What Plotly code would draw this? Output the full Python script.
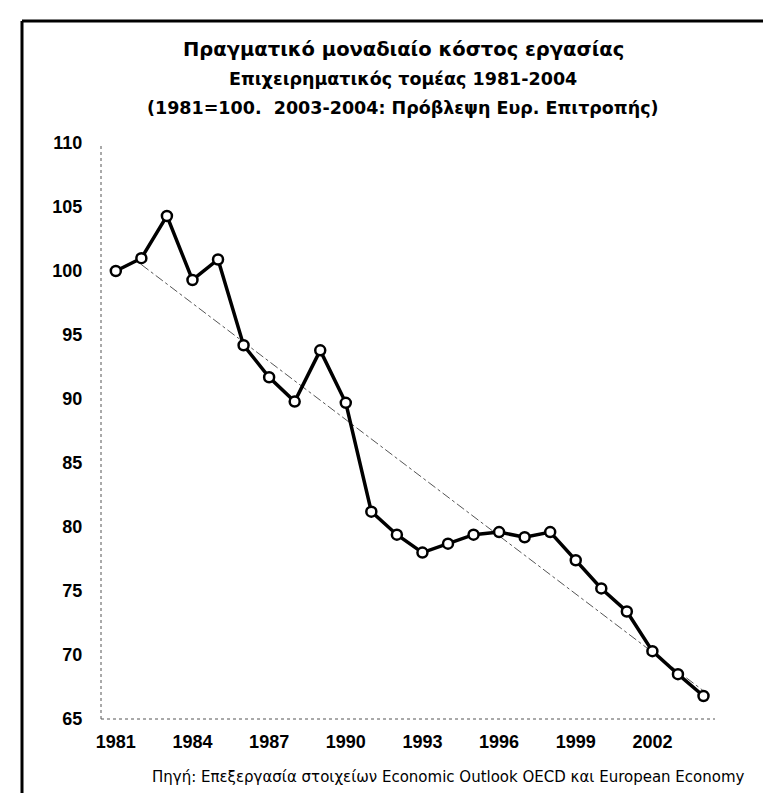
import plotly.graph_objects as go

years = list(range(1981, 2005))
ulc = [100.0, 101.0, 104.3, 99.3, 100.9, 94.2, 91.7, 89.8, 93.8, 89.7,
       81.2, 79.4, 78.0, 78.7, 79.4, 79.6, 79.2, 79.6, 77.4, 75.2,
       73.4, 70.3, 68.5, 66.8]
trend_years = [1982, 2004]
trend_vals = [100.5, 67.2]
x_ticks = [1981, 1984, 1987, 1990, 1993, 1996, 1999, 2002]
y_ticks = [65, 70, 75, 80, 85, 90, 95, 100, 105, 110]

title_lines = [
    "Πραγματικό μοναδιαίο κόστος εργασίας",
    "Επιχειρηματικός τομέας 1981-2004",
    "(1981=100.  2003-2004: Πρόβλεψη Ευρ. Επιτροπής)",
]
source_text = "Πηγή: Επεξεργασία στοιχείων Economic Outlook OECD και European Economy"

W, H = 771, 793
L, R, T, B = 93, 64, 135, 82
pw, ph = W - L - R, H - T - B

def px(x):
    return (x - L) / pw

def py(y):
    return (H - B - y) / ph

fig = go.Figure()
fig.add_trace(go.Scatter(
    x=trend_years, y=trend_vals, mode="lines",
    line=dict(color="#555555", width=1, dash="dashdot"),
    hoverinfo="skip", showlegend=False))
fig.add_trace(go.Scatter(
    x=years, y=ulc, mode="lines+markers",
    line=dict(color="black", width=3.5),
    marker=dict(symbol="circle", size=10, color="white",
                line=dict(color="black", width=2.5)),
    showlegend=False))

font_b = "Liberation Sans, Arial, sans-serif"
font_w = "DejaVu Sans, Verdana, sans-serif"

shapes = [
    dict(type="line", xref="paper", yref="paper", x0=0, x1=0, y0=0, y1=1,
         line=dict(color="#555555", width=1, dash="dot")),
    dict(type="line", xref="paper", yref="paper", x0=0, x1=1, y0=0, y1=0,
         line=dict(color="#555555", width=1, dash="dot")),
    dict(type="line", xref="paper", yref="paper", x0=px(14), x1=px(771),
         y0=py(13), y1=py(13), line=dict(color="black", width=3)),
    dict(type="line", xref="paper", yref="paper", x0=px(14), x1=px(14),
         y0=py(13), y1=py(793), line=dict(color="black", width=3)),
]

annotations = []
title_y = [41, 71, 100]
title_sizes = [19.5, 17.5, 17.5]
for txt, yy, sz in zip(title_lines, title_y, title_sizes):
    annotations.append(dict(text="<b>%s</b>" % txt, xref="paper", yref="paper",
                            x=px(395), y=py(yy), xanchor="center", yanchor="middle",
                            showarrow=False, font=dict(family=font_w, size=sz, color="black")))
annotations.append(dict(text=source_text, xref="paper", yref="paper",
                        x=px(440), y=py(769), xanchor="center", yanchor="middle",
                        showarrow=False, font=dict(family=font_w, size=15, color="black")))

fig.update_layout(
    width=W, height=H,
    margin=dict(l=L, r=R, t=T, b=B, pad=0),
    paper_bgcolor="white", plot_bgcolor="white",
    shapes=shapes, annotations=annotations,
    xaxis=dict(range=[1980.42, 2004.45], tickvals=x_ticks,
               ticktext=[str(v) for v in x_ticks],
               showgrid=False, zeroline=False, showline=False,
               ticks="outside", ticklen=6, tickcolor="rgba(0,0,0,0)",
               tickfont=dict(family=font_b, size=18, color="black", weight="bold")),
    yaxis=dict(range=[65, 110], tickvals=y_ticks,
               showgrid=False, zeroline=False, showline=False,
               ticks="outside", ticklen=14, tickcolor="rgba(0,0,0,0)",
               tickfont=dict(family=font_b, size=18, color="black", weight="bold")),
)

fig.write_html("out.html")
